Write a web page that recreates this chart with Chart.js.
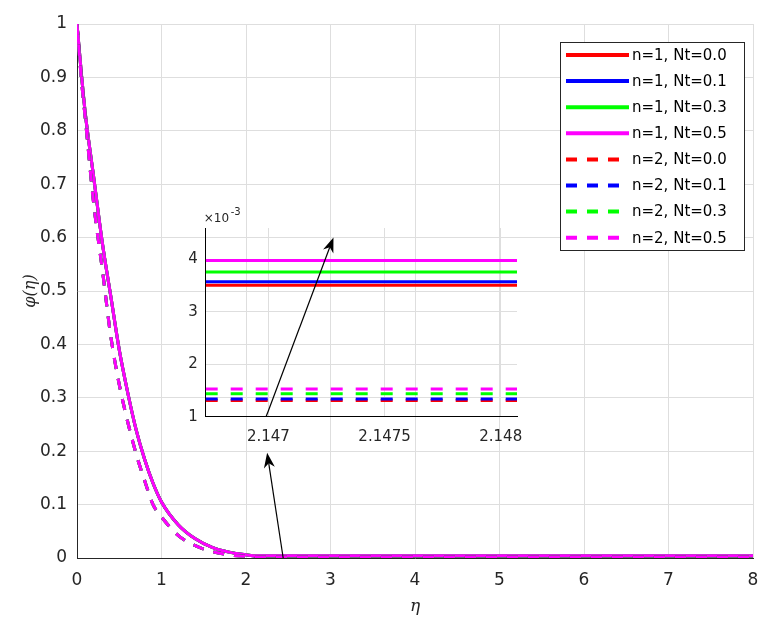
<!DOCTYPE html>
<html>
<head>
<meta charset="utf-8">
<script src="https://cdn.jsdelivr.net/npm/chart.js@4.4.1/dist/chart.umd.min.js"></script>
<style>
  body { margin: 0; background: #fff; }
  #wrap { position: relative; width: 762px; height: 631px; }
  #main { position: absolute; left: 0; top: 0; }
  #inset { position: absolute; left: 150px; top: 200px; }
</style>
</head>
<body>
<div id="wrap">
  <canvas id="main" width="762" height="631"></canvas>
  <canvas id="inset" width="380" height="260"></canvas>
</div>
<script>
// valores
const etaHead = [0, 0.05, 0.1, 0.2, 0.3, 0.4, 0.5, 0.6, 0.7, 0.8, 0.9, 1.0, 1.2, 1.4, 1.6, 1.8, 2.0];
const phiN1 = [1, 0.91, 0.83, 0.71, 0.59, 0.49, 0.39, 0.31, 0.24, 0.185, 0.14, 0.105, 0.062, 0.036, 0.02, 0.011, 0.006];
const phiN2 = [1, 0.90, 0.82, 0.66, 0.54, 0.415, 0.325, 0.255, 0.195, 0.145, 0.10, 0.077, 0.042, 0.023, 0.012, 0.006, 0.003];
const etaTail = [2.147, 2.5, 3, 4, 5, 6, 7, 8];

// zoom (x10^-3) en eta ~ 2.147
const insetN1 = [3.51, 3.575, 3.76, 3.98];
const insetN2 = [1.31, 1.34, 1.44, 1.53];
const insetX = [2.14673, 2.14807];

const ntLabels = ["0.0", "0.1", "0.3", "0.5"];
const colores = ["#ff0000", "#0000ff", "#00ff00", "#ff00ff"];

const xTicksMain = [0, 1, 2, 3, 4, 5, 6, 7, 8];
const xTicksInset = [2.147, 2.1475, 2.148];
const yTicksInset = [1, 2, 3, 4];

const dash = [11, 10];
const tickColor = "#262626";
const gridColor = "#dedede";
const fuente = "'DejaVu Sans', sans-serif";

function serie(head, tail) {
  const pts = etaHead.map((e, i) => ({ x: e, y: head[i] }));
  etaTail.forEach((e) => pts.push({ x: e, y: tail }));
  return pts;
}

// sin margen extra por las etiquetas de los extremos
function sinSobrante(s) {
  s.paddingLeft = 0;
  s.paddingRight = 0;
  s.paddingTop = 0;
  s.paddingBottom = 0;
}

// datasets de la grafica principal
const mainSets = [];
[1, 2].forEach((n) => {
  colores.forEach((c, i) => {
    const tail = (n === 1 ? insetN1[i] : insetN2[i]) / 1000;
    mainSets.push({
      label: "n=" + n + ", Nt=" + ntLabels[i],
      data: serie(n === 1 ? phiN1 : phiN2, tail),
      borderColor: c,
      borderWidth: 3,
      borderDash: n === 2 ? dash : [],
      pointRadius: 0,
      cubicInterpolationMode: "monotone",
    });
  });
});
mainSets.forEach((d, i) => (d.order = mainSets.length - i));

function flecha(ctx, x1, y1, x2, y2) {
  const ang = Math.atan2(y2 - y1, x2 - x1);
  const L = 15, W = 5.5;
  ctx.save();
  ctx.strokeStyle = "#000";
  ctx.fillStyle = "#000";
  ctx.lineWidth = 1.2;
  ctx.beginPath();
  ctx.moveTo(x1, y1);
  ctx.lineTo(x2 - Math.cos(ang) * L * 0.7, y2 - Math.sin(ang) * L * 0.7);
  ctx.stroke();
  ctx.beginPath();
  ctx.moveTo(x2, y2);
  ctx.lineTo(x2 - Math.cos(ang) * L - Math.sin(ang) * W, y2 - Math.sin(ang) * L + Math.cos(ang) * W);
  ctx.lineTo(x2 - Math.cos(ang) * L * 0.7, y2 - Math.sin(ang) * L * 0.7);
  ctx.lineTo(x2 - Math.cos(ang) * L + Math.sin(ang) * W, y2 - Math.sin(ang) * L - Math.cos(ang) * W);
  ctx.closePath();
  ctx.fill();
  ctx.restore();
}

// leyenda y flecha inferior
const extrasMain = {
  id: "extrasMain",
  afterDraw(chart) {
    const ctx = chart.ctx;
    const sx = chart.scales.x, sy = chart.scales.y;
    flecha(ctx, sx.getPixelForValue(2.44), sy.getPixelForValue(0), sx.getPixelForValue(2.25), sy.getPixelForValue(0.197));

    const bx = 560, by = 42, bw = 184, bh = 208;
    ctx.save();
    ctx.fillStyle = "#fff";
    ctx.fillRect(bx, by, bw, bh);
    ctx.strokeStyle = "#262626";
    ctx.lineWidth = 1;
    ctx.strokeRect(bx + 0.5, by + 0.5, bw, bh);
    ctx.font = "15px " + fuente;
    ctx.textBaseline = "middle";
    chart.data.datasets.forEach((d, i) => {
      const y = by + 13 + i * 26.1;
      ctx.strokeStyle = d.borderColor;
      ctx.lineWidth = 4;
      ctx.setLineDash(d.borderDash);
      ctx.beginPath();
      ctx.moveTo(bx + 6, y);
      ctx.lineTo(bx + 69, y);
      ctx.stroke();
      ctx.setLineDash([]);
      ctx.fillStyle = "#000";
      ctx.fillText(d.label, bx + 72, y + 1);
    });
    ctx.restore();
  },
};

const fondoBlanco = {
  id: "fondoBlanco",
  beforeDraw(chart) {
    const ctx = chart.ctx;
    ctx.save();
    ctx.fillStyle = "#fff";
    ctx.fillRect(0, 0, chart.width, chart.height);
    ctx.restore();
  },
};

new Chart(document.getElementById("main"), {
  type: "line",
  data: { datasets: mainSets },
  options: {
    responsive: false,
    animation: false,
    layout: { padding: { left: 0, right: 9, top: 24, bottom: 0 } },
    plugins: { legend: { display: false }, tooltip: { enabled: false } },
    scales: {
      x: {
        type: "linear",
        min: 0,
        max: 8,
        afterBuildTicks: (s) => { s.ticks = xTicksMain.map((v) => ({ value: v })); },
        afterFit: (s) => { s.height = 73; sinSobrante(s); },
        ticks: { color: tickColor, padding: 12, font: { size: 17, family: fuente } },
        grid: { color: gridColor, drawTicks: false },
        border: { color: tickColor },
        title: {
          display: true,
          text: "η",
          color: tickColor,
          font: { size: 17, style: "italic", family: "'DejaVu Serif', serif" },
          padding: { bottom: 14 },
        },
      },
      y: {
        min: 0,
        max: 1,
        ticks: {
          stepSize: 0.1,
          color: tickColor,
          padding: 10,
          font: { size: 17, family: fuente },
          callback: (v) => String(+v.toFixed(1)),
        },
        afterFit: (s) => { s.width = 77; sinSobrante(s); },
        grid: { color: gridColor, drawTicks: false },
        border: { color: tickColor },
        title: {
          display: true,
          text: "φ(η)",
          color: tickColor,
          font: { size: 16, style: "italic", family: "'DejaVu Serif', serif" },
          padding: { top: 21 },
        },
      },
    },
  },
  plugins: [fondoBlanco, extrasMain],
});

// grafica de detalle
const insetSets = [];
[1, 2].forEach((n) => {
  colores.forEach((c, i) => {
    const v = n === 1 ? insetN1[i] : insetN2[i];
    insetSets.push({
      data: insetX.map((x) => ({ x: x, y: v })),
      borderColor: c,
      borderWidth: 3,
      borderDash: n === 2 ? [12, 13] : [],
      pointRadius: 0,
    });
  });
});
insetSets.forEach((d, i) => (d.order = insetSets.length - i));

const extrasInset = {
  id: "extrasInset",
  afterDraw(chart) {
    const ctx = chart.ctx;
    const sx = chart.scales.x, sy = chart.scales.y;
    flecha(ctx, sx.getPixelForValue(2.14699), sy.getPixelForValue(1), sx.getPixelForValue(2.14728), sy.getPixelForValue(4.42));
    const a = chart.chartArea;
    ctx.save();
    ctx.fillStyle = tickColor;
    ctx.font = "12px " + fuente;
    ctx.textBaseline = "alphabetic";
    ctx.fillText("×10", a.left - 2, a.top - 6);
    ctx.font = "10px " + fuente;
    ctx.fillText("-3", a.left + 25, a.top - 13);
    ctx.restore();
  },
};

new Chart(document.getElementById("inset"), {
  type: "line",
  data: { datasets: insetSets },
  options: {
    responsive: false,
    animation: false,
    layout: { padding: { left: 0, right: 13, top: 28, bottom: 0 } },
    plugins: { legend: { display: false }, tooltip: { enabled: false } },
    scales: {
      x: {
        type: "linear",
        min: insetX[0],
        max: insetX[1],
        afterBuildTicks: (s) => { s.ticks = xTicksInset.map((v) => ({ value: v })); },
        afterFit: (s) => { s.height = 43.3; sinSobrante(s); },
        ticks: { color: tickColor, padding: 11, maxRotation: 0, font: { size: 15, family: fuente }, callback: (v) => String(v) },
        grid: { color: gridColor, drawTicks: false },
        border: { color: "#000" },
      },
      y: {
        min: 1,
        max: 4.6,
        afterBuildTicks: (s) => { s.ticks = yTicksInset.map((v) => ({ value: v })); },
        afterFit: (s) => { s.width = 55.7; sinSobrante(s); },
        ticks: { color: tickColor, padding: 8, font: { size: 15, family: fuente } },
        grid: { color: gridColor, drawTicks: false },
        border: { color: "#000" },
      },
    },
  },
  plugins: [extrasInset],
});
</script>
</body>
</html>
